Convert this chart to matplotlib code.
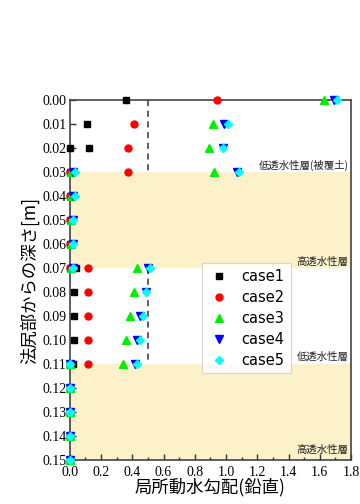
import numpy as np
import matplotlib.pyplot as plt

# depth [m] and vertical local hydraulic gradient for each case
depth1 = [0.00, 0.01, 0.02, 0.02, 0.03, 0.04, 0.05, 0.06, 0.07, 0.07, 0.08, 0.09, 0.10, 0.11, 0.11, 0.12, 0.13, 0.14, 0.15]
case1 = [0.36, 0.11, 0.00, 0.12, 0.00, 0.00, 0.00, 0.00, 0.00, 0.04, 0.025, 0.025, 0.025, 0.00, 0.02, 0.00, 0.00, 0.00, 0.00]

depth = [0.00, 0.01, 0.02, 0.03, 0.03, 0.04, 0.05, 0.06, 0.07, 0.07, 0.08, 0.09, 0.10, 0.11, 0.11, 0.12, 0.13, 0.14, 0.15]
case2 = [0.94, 0.41, 0.37, 0.37, 0.00, 0.00, 0.00, 0.00, 0.00, 0.115, 0.115, 0.117, 0.117, 0.117, 0.00, 0.00, 0.00, 0.00, 0.00]
case3 = [1.63, 0.915, 0.89, 0.92, 0.01, 0.01, 0.01, 0.01, 0.01, 0.43, 0.41, 0.385, 0.36, 0.34, 0.00, 0.00, 0.00, 0.00, 0.00]
case4 = [1.69, 0.99, 0.98, 1.07, 0.02, 0.02, 0.02, 0.02, 0.02, 0.50, 0.49, 0.45, 0.43, 0.42, 0.00, 0.00, 0.00, 0.00, 0.00]
case5 = [1.71, 1.01, 0.98, 1.08, 0.03, 0.03, 0.02, 0.02, 0.02, 0.51, 0.49, 0.47, 0.45, 0.43, 0.00, 0.00, 0.00, 0.00, 0.00]

# permeable layers (shaded) and dashed reference
high_layers = [(0.03, 0.07), (0.11, 0.15)]
low_layers = [(0.00, 0.03), (0.07, 0.11)]
ref_value = 0.5
layer_labels = [("低透水性層(被覆土)", 0.0275), ("高透水性層", 0.0675),
                ("低透水性層", 0.1070), ("高透水性層", 0.1455)]

jp = ['Noto Sans CJK JP', 'DejaVu Sans']
serif = 'Liberation Serif'

fig = plt.figure(figsize=(3.6, 5.04), dpi=100)
ax = fig.add_axes([0.194, 0.087, 0.781, 0.715])

for a, b in high_layers:
    ax.axhspan(a, b, color='#fcf1c9', lw=0, zorder=0)
for a, b in low_layers:
    ax.plot([ref_value, ref_value], [a, b], ls=(0, (4, 3)), color='#333333', lw=1.1, zorder=1)

ms = 5
kw = dict(ls='none', clip_on=False)
ax.plot(case1, depth1, 's', color='black', ms=ms, label='case1', zorder=3, **kw)
ax.plot(case2, depth, 'o', color='#ff0000', ms=ms, label='case2', zorder=3, **kw)
ax.plot(case3, depth, '^', color='#00ee00', ms=ms + 0.5, label='case3', zorder=3, **kw)
ax.plot(case4, depth, 'v', color='#0000ff', ms=ms + 0.5, label='case4', zorder=3, **kw)
ax.plot(case5, depth, 'D', color='#00ffff', ms=ms - 0.5, label='case5', zorder=4, **kw)

for txt, y in layer_labels:
    ax.text(1.785, y, txt, ha='right', va='center', fontsize=7.5, family=jp, color='#222222', zorder=2)

ax.set_xlim(0, 1.8)
ax.set_ylim(0.15, 0.0)
ax.set_xticks(np.arange(0, 1.81, 0.2))
ax.set_xticks(np.arange(0, 1.81, 0.1), minor=True)
ax.set_yticks(np.arange(0, 0.1501, 0.01))
ax.set_xticklabels([f"{v:.1f}" for v in np.arange(0, 1.81, 0.2)])
ax.set_yticklabels([f"{v:.2f}" for v in np.arange(0, 0.1501, 0.01)])
ax.tick_params(direction='in', length=4, width=1, labelsize=10, colors='#333333', labelcolor='black')
ax.tick_params(axis='y', pad=2.5)
ax.tick_params(axis='x', pad=4.5)
ax.tick_params(which='minor', direction='in', length=2.5, width=1, colors='#333333')
for lab in ax.get_xticklabels() + ax.get_yticklabels():
    lab.set_family(serif)
for s in ax.spines.values():
    s.set_color('#444444')
    s.set_linewidth(1.2)

ax.set_xlabel('局所動水勾配(鉛直)', family=jp, fontsize=12.5, labelpad=-1)
ax.set_ylabel('法尻部からの深さ[m]', family=jp, fontsize=12.5, labelpad=2)

leg = ax.legend(loc='upper left', bbox_to_anchor=(0.445, 0.566), fontsize=10.5, frameon=True,
                fancybox=False, edgecolor='#cccccc', handletextpad=0.8, borderpad=0.4,
                labelspacing=0.4, handlelength=1.5)
leg.get_frame().set_linewidth(0.8)

fig.savefig('out.png', dpi=100)
